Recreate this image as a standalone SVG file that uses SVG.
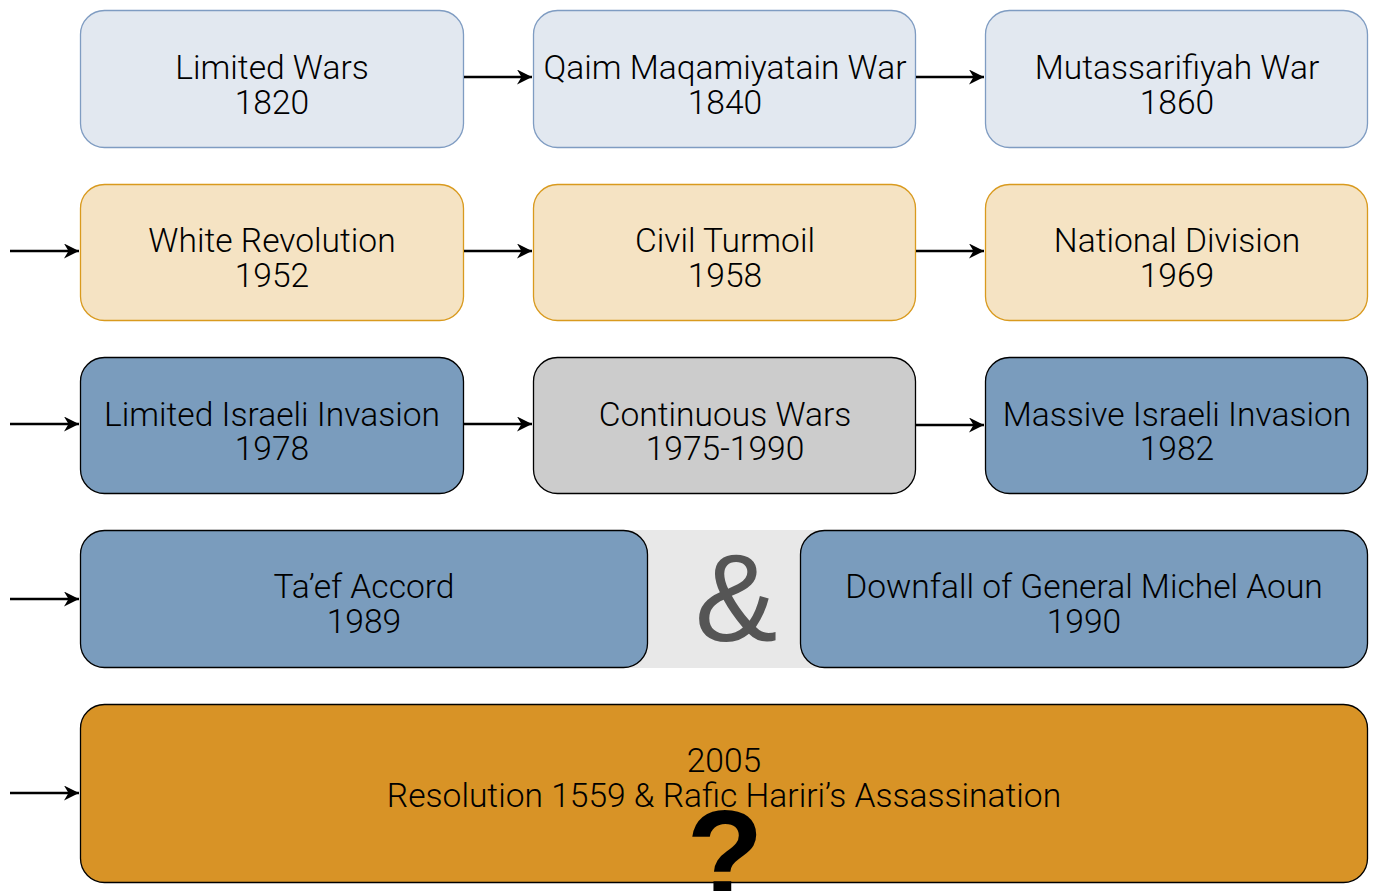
<svg xmlns="http://www.w3.org/2000/svg" width="1374" height="891" viewBox="0 0 1374 891">
<style>
.t{font-family:Roboto,"Liberation Sans",sans-serif;font-weight:300;font-size:33.6px;fill:#000;text-anchor:middle}
.lb{fill:#E2E8F0;stroke:#7F9CC2;stroke-width:1.3}
.or{fill:#F5E3C3;stroke:#D99A1E;stroke-width:1.3}
.db{fill:#7A9CBD;stroke:#000;stroke-width:1.3}
.gr{fill:#CCCCCC;stroke:#000;stroke-width:1.3}
.big{fill:#D89326;stroke:#000;stroke-width:1.3}
.c{stroke:#000;stroke-width:2.5;fill:none;marker-end:url(#ah)}
</style>
<defs>
<marker id="ah" viewBox="0 0 10 10" refX="10" refY="5" markerWidth="6" markerHeight="6" markerUnits="strokeWidth" orient="auto"><path d="M0,0 L10,5 L0,10 L3,5 Z" fill="#000"/></marker>
</defs>
<rect x="630" y="530" width="190" height="138" fill="#E8E8E8"/>
<g id="n1"><rect class="lb" x="80.5" y="10.5" width="383" height="137" rx="24"/><text class="t" x="272" y="79">Limited Wars</text><text class="t" x="272" y="114">1820</text></g>
<g id="n2"><rect class="lb" x="533.5" y="10.5" width="382" height="137" rx="24"/><text class="t" x="725" y="79">Qaim Maqamiyatain War</text><text class="t" x="725" y="114">1840</text></g>
<g id="n3"><rect class="lb" x="985.5" y="10.5" width="382" height="137" rx="24"/><text class="t" x="1177" y="79">Mutassarifiyah War</text><text class="t" x="1177" y="114">1860</text></g>
<g id="n4"><rect class="or" x="80.5" y="184.5" width="383" height="136" rx="24"/><text class="t" x="272" y="252">White Revolution</text><text class="t" x="272" y="287">1952</text></g>
<g id="n5"><rect class="or" x="533.5" y="184.5" width="382" height="136" rx="24"/><text class="t" x="725" y="252">Civil Turmoil</text><text class="t" x="725" y="287">1958</text></g>
<g id="n6"><rect class="or" x="985.5" y="184.5" width="382" height="136" rx="24"/><text class="t" x="1177" y="252">National Division</text><text class="t" x="1177" y="287">1969</text></g>
<g id="n7"><rect class="db" x="80.5" y="357.5" width="383" height="136" rx="24"/><text class="t" x="272" y="426">Limited Israeli Invasion</text><text class="t" x="272" y="460">1978</text></g>
<g id="n8"><rect class="gr" x="533.5" y="357.5" width="382" height="136" rx="24"/><text class="t" x="725" y="426">Continuous Wars</text><text class="t" x="725" y="460">1975-1990</text></g>
<g id="n9"><rect class="db" x="985.5" y="357.5" width="382" height="136" rx="24"/><text class="t" x="1177" y="426">Massive Israeli Invasion</text><text class="t" x="1177" y="460">1982</text></g>
<g id="n10"><rect class="db" x="80.5" y="530.5" width="567" height="137" rx="24"/><text class="t" x="364" y="598">Ta’ef Accord</text><text class="t" x="364" y="633">1989</text></g>
<g id="amp"><text x="736" y="641" font-family="Liberation Sans, sans-serif" font-size="124" fill="#555555" text-anchor="middle">&amp;</text></g>
<g id="n11"><rect class="db" x="800.5" y="530.5" width="567" height="137" rx="24"/><text class="t" x="1084" y="598">Downfall of General Michel Aoun</text><text class="t" x="1084" y="633">1990</text></g>
<g id="n12"><rect class="big" x="80.5" y="704.5" width="1287" height="178" rx="24"/><text class="t" x="724" y="772">2005</text><text class="t" x="724" y="807">Resolution 1559 &amp; Rafic Hariri’s Assassination</text></g>
<g id="q"><text x="725" y="898" font-family="Liberation Sans, sans-serif" font-weight="bold" font-size="126" fill="#000" text-anchor="middle">?</text></g>
<g id="connectors">
<line class="c" x1="464" y1="77" x2="532" y2="77"/>
<line class="c" x1="916" y1="77" x2="984" y2="77"/>
<line class="c" x1="10" y1="251" x2="79" y2="251"/>
<line class="c" x1="464" y1="251" x2="532" y2="251"/>
<line class="c" x1="916" y1="251" x2="984" y2="251"/>
<line class="c" x1="10" y1="424" x2="79" y2="424"/>
<line class="c" x1="464" y1="424" x2="532" y2="424"/>
<line class="c" x1="916" y1="425" x2="984" y2="425"/>
<line class="c" x1="10" y1="599" x2="79" y2="599"/>
<line class="c" x1="10" y1="793" x2="79" y2="793"/>
</g>
</svg>
